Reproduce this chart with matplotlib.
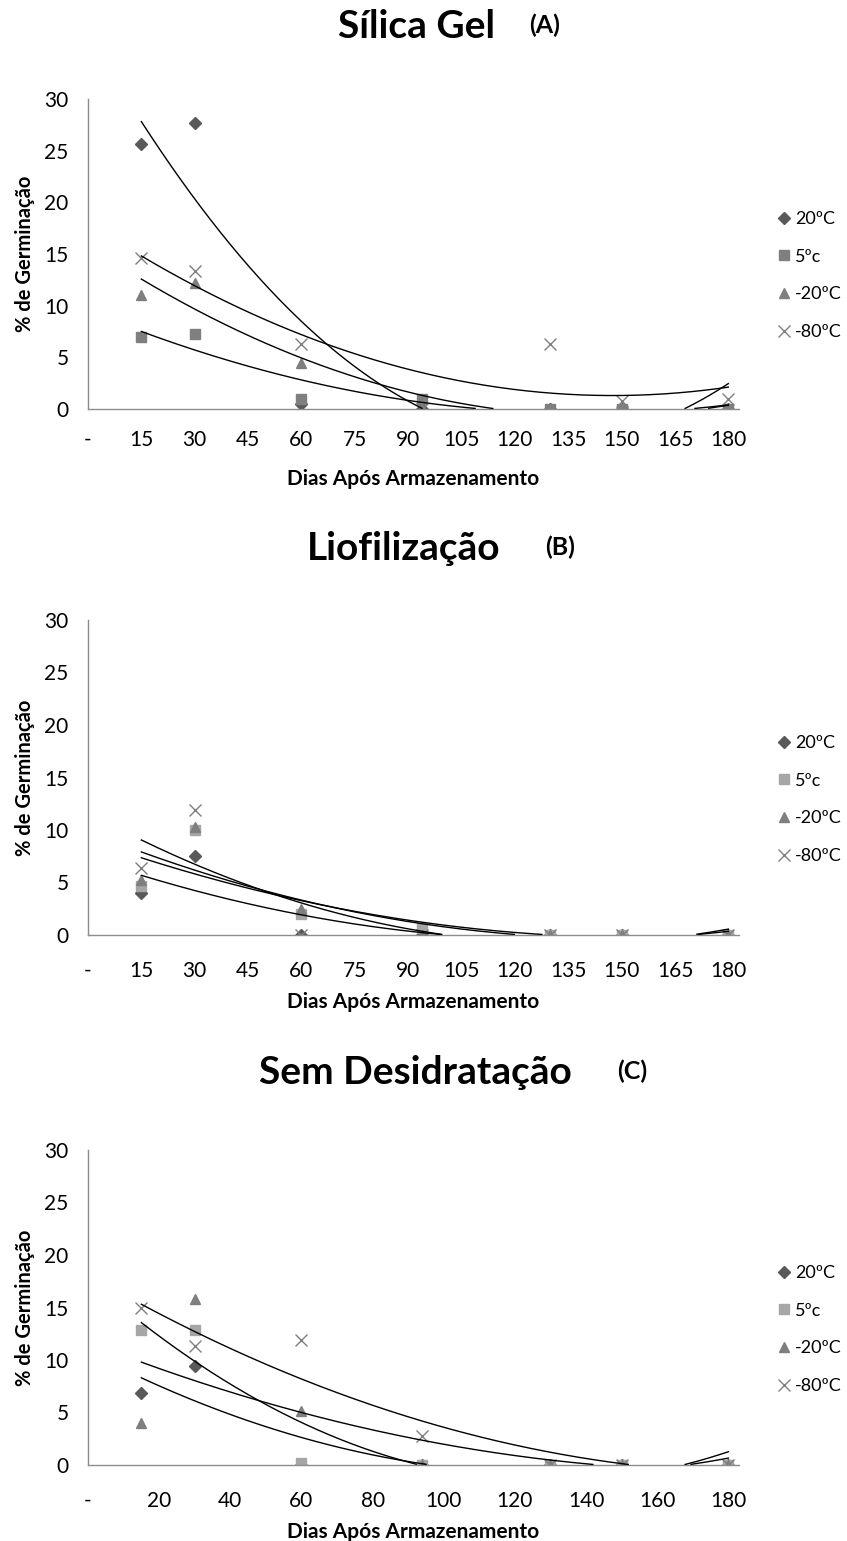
import numpy as np
import matplotlib
matplotlib.use("Agg")
import matplotlib.pyplot as plt

plt.rcParams['font.family'] = ['Lato', 'DejaVu Sans']

# ---- data ----
dias = [15, 30, 60, 94, 130, 150, 180]
series_labels = ["20ºC", "5ºc", "-20ºC", "-80ºC"]

# (A) Sílica Gel
a_20 = [25.6, 27.7, 0.5, 0.0, 0.0, 0.0, 0.0]
a_5 = [7.0, 7.3, 1.0, 1.0, 0.0, 0.0, 0.0]
a_m20 = [11.0, 12.2, 4.5, 0.0, 0.0, 0.0, 0.0]
a_m80 = [14.6, 13.4, 6.3, 0.0, 6.3, 0.8, 1.0]

# (B) Liofilização
b_20 = [4.0, 7.5, 0.0, 0.0, 0.0, 0.0, 0.0]
b_5 = [4.7, 10.0, 2.0, 0.7, 0.0, 0.0, 0.0]
b_m20 = [5.2, 10.3, 2.5, 0.0, 0.0, 0.0, 0.0]
b_m80 = [6.4, 11.9, 0.0, 0.0, 0.0, 0.0, 0.0]

# (C) Sem Desidratação
c_20 = [6.9, 9.4, 0.0, 0.0, 0.0, 0.0, 0.0]
c_5 = [12.9, 12.9, 0.2, 0.0, 0.0, 0.0, 0.0]
c_m20 = [4.0, 15.8, 5.1, 0.0, 0.0, 0.0, 0.0]
c_m80 = [15.0, 11.3, 11.9, 2.8, 0.0, 0.0, 0.0]

ticks_ab = [0, 15, 30, 45, 60, 75, 90, 105, 120, 135, 150, 165, 180]
ticks_c = [0, 20, 40, 60, 80, 100, 120, 140, 160, 180]
yticks = [0, 5, 10, 15, 20, 25, 30]

W, H = 847, 1541
fig = plt.figure(figsize=(W / 100, H / 100), dpi=100)

def fx(px):
    return px / W

def fy(py):
    return 1 - py / H

markers = ['D', 's', '^', 'x']
sizes = [6, 6.5, 7, 8]

def panel(top_px, bot_px, data, sq_color, xticks, title, tag, title_cx, tag_cx, title_y, leg_y,
          xpad, xlabpad):
    left, right = 88, 739
    ax = fig.add_axes([fx(left), fy(bot_px), fx(right - left), (bot_px - top_px) / H])
    colors = ['#595959', sq_color, '#7f7f7f', '#7f7f7f']
    handles = []
    for vals, m, s, c, lab in zip(data, markers, sizes, colors, series_labels):
        kw = dict(color=c, markeredgewidth=1.0) if m == 'x' else dict(color=c, markeredgecolor=c)
        h, = ax.plot(dias, vals, linestyle='none', marker=m, markersize=s, label=lab, zorder=2, **kw)
        handles.append(h)
    xs = np.linspace(dias[0], dias[-1], 300)
    for vals in data:
        coef = np.polyfit(dias, vals, 2)
        yv = np.polyval(coef, xs)
        yv = np.where(yv < 0.05, np.nan, yv)
        ax.plot(xs, yv, color='black', lw=1.0, zorder=3)
    ax.set_xlim(0, 183)
    ax.set_ylim(0, 30)
    ax.set_xticks(xticks)
    ax.set_xticklabels(['-'] + [str(t) for t in xticks[1:]])
    ax.set_yticks(yticks)
    for sp in ['top', 'right']:
        ax.spines[sp].set_visible(False)
    for sp in ['left', 'bottom']:
        ax.spines[sp].set_color('#8c8c8c')
        ax.spines[sp].set_linewidth(1.0)
    ax.tick_params(length=0, labelsize=15, colors='black')
    ax.tick_params(axis='x', pad=xpad)
    ax.tick_params(axis='y', pad=14)
    ax.set_xlabel('Dias Após Armazenamento', fontsize=15, fontweight='bold', labelpad=xlabpad)
    ax.set_ylabel('% de Germinação', fontsize=14.5, fontweight='bold')
    ax.yaxis.label.set_va('center')
    ax.yaxis.set_label_coords((25 - left) / (right - left), 0.5)
    fig.text(fx(title_cx), fy(title_y), title, ha='center', va='center', fontsize=28, fontweight='bold')
    fig.text(fx(tag_cx), fy(title_y - 2), tag, ha='center', va='center', fontsize=18, fontweight='bold')
    ax.legend(handles=handles, loc='upper left', bbox_to_anchor=(fx(778), fy(leg_y)),
              bbox_transform=fig.transFigure, frameon=False, fontsize=13,
              labelspacing=1.2, handlelength=0.7, handletextpad=0.25, borderpad=0,
              borderaxespad=0)
    return ax

panel(99, 409, [a_20, a_5, a_m20, a_m80], '#7f7f7f', ticks_ab, 'Sílica Gel', '(A)', 416, 545, 27, 211,
      15, 13.5)
panel(620, 935, [b_20, b_5, b_m20, b_m80], '#a6a6a6', ticks_ab, 'Liofilização', '(B)', 404, 560, 549, 735,
      18.5, 8.5)
panel(1150, 1465, [c_20, c_5, c_m20, c_m80], '#a6a6a6', ticks_c, 'Sem Desidratação', '(C)', 415, 632, 1073, 1265,
      18.5, 8.5)

fig.savefig('out.png', dpi=100)
